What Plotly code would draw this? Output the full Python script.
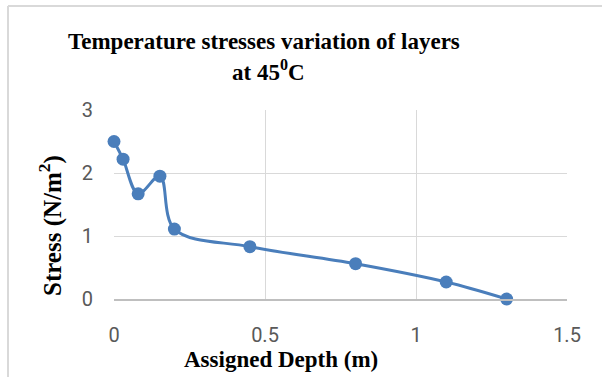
import plotly.graph_objects as go

depth = [0, 0.03, 0.08, 0.152, 0.2, 0.45, 0.8, 1.1, 1.3]
stress = [2.5, 2.22, 1.67, 1.95, 1.11, 0.83, 0.56, 0.27, 0.0]
x_ticks = [0, 0.5, 1, 1.5]
y_ticks = [0, 1, 2, 3]

W, H = 602, 377
L, R, T, B = 114, 35, 110, 78
pw, ph = W - L - R, H - T - B

def px(x):
    return (x - L) / pw

def py(y):
    return (H - B - y) / ph

fig = go.Figure(go.Scatter(
    x=depth, y=stress, mode="lines+markers", cliponaxis=False,
    line=dict(color="#4a7ebb", width=3, shape="spline", smoothing=1),
    marker=dict(color="#4a7ebb", size=13),
))

serif = "Liberation Serif"
fig.update_layout(
    width=W, height=H, margin=dict(l=L, r=R, t=T, b=B),
    paper_bgcolor="white", plot_bgcolor="white", showlegend=False,
    annotations=[
        dict(text="Temperature stresses variation of layers", xref="paper", yref="paper",
             x=px(264), y=py(41), xanchor="center", yanchor="middle", showarrow=False,
             font=dict(family=serif, size=23, color="black", weight="bold")),
        dict(text="at 45<sup>0</sup>C", xref="paper", yref="paper",
             x=px(268), y=py(70), xanchor="center", yanchor="middle", showarrow=False,
             font=dict(family=serif, size=23, color="black", weight="bold")),
        dict(text="Assigned Depth (m)", xref="paper", yref="paper", x=px(281), y=py(359),
             xanchor="center", yanchor="middle", showarrow=False,
             font=dict(family=serif, size=23, color="black", weight="bold")),
        dict(text="Stress (N/m<sup>2</sup>)", xref="paper", yref="paper", x=px(50), y=py(226),
             xanchor="center", yanchor="middle", showarrow=False, textangle=-90,
             font=dict(family=serif, size=25, color="black", weight="bold")),
    ],
    xaxis=dict(range=[0, 1.5], tickvals=x_ticks, ticktext=[str(v) for v in x_ticks],
               showgrid=True, gridcolor="#d9d9d9", gridwidth=1, zeroline=False,
               showline=True, linecolor="#bfbfbf", linewidth=1.5,
               ticks="outside", ticklen=17, tickcolor="rgba(0,0,0,0)",
               tickfont=dict(family="Roboto", size=20, color="#595959")),
    yaxis=dict(range=[0, 3], tickvals=y_ticks, showgrid=True, gridcolor="#d9d9d9", gridwidth=1,
               zeroline=False, showline=False, ticks="outside", ticklen=16, tickcolor="rgba(0,0,0,0)",
               tickfont=dict(family="Roboto", size=20, color="#595959")),
    shapes=[
        dict(type="line", xref="paper", yref="paper", x0=px(8), x1=px(602), y0=py(6), y1=py(6),
             line=dict(color="#d9d9d9", width=2)),
        dict(type="line", xref="paper", yref="paper", x0=px(8), x1=px(8), y0=py(6), y1=py(377),
             line=dict(color="#d9d9d9", width=2)),
    ],
)

fig.write_html("out.html")
